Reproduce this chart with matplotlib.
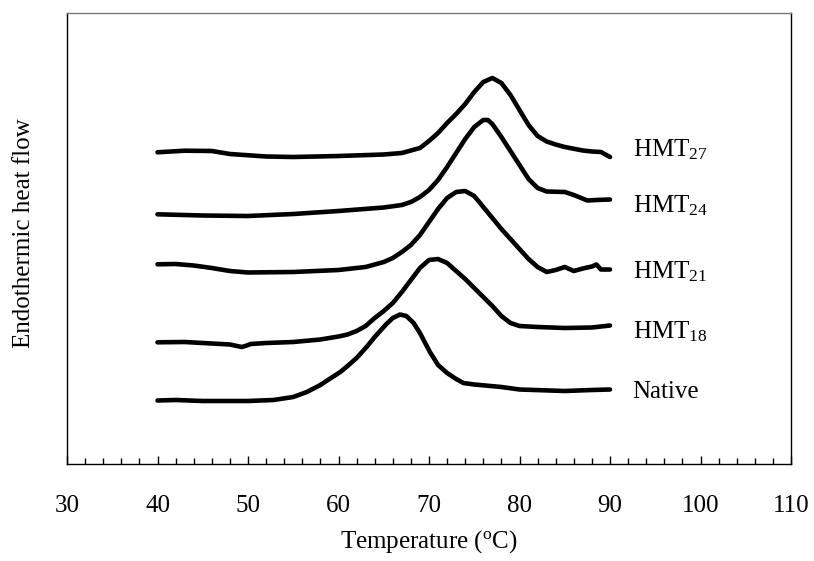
import matplotlib
matplotlib.use('Agg')
import matplotlib.pyplot as plt
from matplotlib.ticker import MultipleLocator

plt.rcParams['font.family'] = ['Liberation Serif', 'DejaVu Serif']
plt.rcParams['mathtext.fontset'] = 'custom'
plt.rcParams['mathtext.rm'] = 'Liberation Serif'
plt.rcParams['mathtext.it'] = 'Liberation Serif:italic'

# temperature (C) and heat flow (arbitrary offset units)
t_native = [40, 42, 45, 48, 50, 52.8, 55, 56.5, 58, 59, 60.2, 61, 62, 63.1, 64, 65.3, 66,
            66.8, 67.5, 68.3, 69, 70.1, 71, 72, 73, 73.8, 75, 78, 80, 85, 88, 90]
y_native = [63.5, 64, 63, 63, 63, 64, 67, 72, 79, 85, 92, 98, 106, 117, 127, 140, 146,
            149.5, 148, 141, 131, 112, 99, 91, 85, 81, 79.5, 77, 74.5, 73, 74, 74.5]

t_hmt18 = [40, 43, 45, 48, 49.3, 49.7, 50.3, 52, 55, 58, 60, 61, 62, 63, 64, 65, 66, 67,
           68, 69, 70, 71, 72, 73, 74, 75, 76, 77, 78, 79, 80, 82, 85, 88, 90]
y_hmt18 = [121.7, 122, 121, 119.5, 117, 118, 120, 121, 122, 124.5, 127.5, 129.5, 133,
           138, 146, 153, 161, 172, 184, 196, 204, 205, 201, 193, 185, 176, 167, 158,
           148, 141, 138, 137, 136, 136.5, 138.5]

t_hmt21 = [40, 42, 44, 46, 48, 50, 55, 60, 63, 65, 66, 67, 68, 69, 70, 71, 72, 73, 74,
           75, 76, 77, 78, 79, 80, 81, 82, 83, 84, 85, 86, 87, 88, 88.5, 89, 90]
y_hmt21 = [199.7, 200, 198.5, 196, 193, 191.5, 192, 194, 197, 202, 206, 212, 219, 229,
           242, 255, 266, 272, 273, 268, 257, 246, 235, 225, 215, 205, 197, 192, 194,
           197, 193, 195.5, 197.5, 199.5, 194.5, 194.5]

t_hmt24 = [40, 45, 50, 55, 60, 65, 67, 68, 69, 70, 71, 72, 73, 74, 75, 76, 76.5, 77, 78,
           79, 80, 81, 82, 83, 85, 86, 87.5, 88.5, 90]
y_hmt24 = [249.7, 248.5, 248, 250, 253, 256.5, 259, 262, 267, 274, 284, 297, 311, 325,
           337, 344, 344, 340, 327, 313, 299, 285, 276, 272.5, 272, 269, 263.5, 264,
           264.5]

t_hmt27 = [40, 43, 46, 48, 52, 55, 60, 65, 67, 69, 70, 71, 72, 73, 74, 75, 76, 77, 78,
           79, 80, 81, 82, 83, 84, 85, 87, 88, 89, 90]
y_hmt27 = [311.7, 313.3, 313, 310, 307.5, 307, 308, 309.5, 311, 316, 323, 331, 341, 350,
           360, 372, 382, 386, 381, 369, 354, 339, 328, 322.5, 319.5, 317, 313.5, 312.5,
           312, 307]

curves = [(t_native, y_native), (t_hmt18, y_hmt18), (t_hmt21, y_hmt21),
          (t_hmt24, y_hmt24), (t_hmt27, y_hmt27)]
labels = ['Native', r'HMT$_{18}$', r'HMT$_{21}$', r'HMT$_{24}$', r'HMT$_{27}$']
label_y = [65.7, 125.7, 185.7, 251.3, 307.3]

fig = plt.figure(figsize=(8.14, 5.61), dpi=100)
ax = fig.add_axes([67 / 814, 1 - 464 / 561, 724 / 814, 451 / 561])

for (t, y), lab, ly in zip(curves, labels, label_y):
    ax.plot(t, y, color='black', lw=3.3, solid_capstyle='round', solid_joinstyle='round')
    ax.text(92.5, ly, lab, fontsize=18, ha='left', va='baseline')

ax.set_xlim(30, 110)
ax.set_ylim(0, 451)
ax.xaxis.set_major_locator(MultipleLocator(10))
ax.xaxis.set_minor_locator(MultipleLocator(2))
ax.tick_params(axis='x', which='major', direction='in', length=6, width=1,
               labelsize=18, pad=22)
ax.tick_params(axis='x', which='minor', direction='in', length=4.3, width=1)
ax.set_yticks([])
for s in ax.spines.values():
    s.set_linewidth(1)
ax.spines['top'].set_color('#777777')

ax.set_xlabel(r'Temperature ($^{\mathrm{o}}$C)', fontsize=18, labelpad=8)
fig.text(24 / 814, 1 - 233 / 561, 'Endothermic heat flow', fontsize=18,
         rotation=90, ha='center', va='center')

fig.savefig('out.png', dpi=100)
